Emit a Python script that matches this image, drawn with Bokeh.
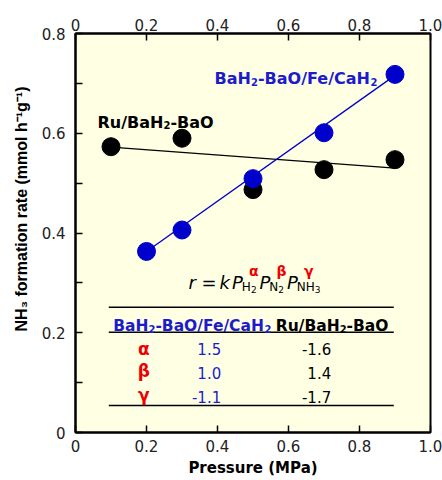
import numpy as np
from bokeh.plotting import figure
from bokeh.models import Label, FixedTicker, LinearAxis, Range1d
from bokeh.embed import file_html
from bokeh.resources import INLINE

# ---------------- data ----------------
pressure_ru = [0.1, 0.3, 0.5, 0.7, 0.9]
rate_ru = [0.573, 0.590, 0.487, 0.527, 0.547]
pressure_fe = [0.2, 0.3, 0.5, 0.7, 0.9]
rate_fe = [0.363, 0.406, 0.509, 0.601, 0.718]
fit_ru_x = [0.1, 0.9]
fit_ru_y = [0.572, 0.530]
fit_fe_x = [0.2, 0.9]
fit_fe_y = [0.363, 0.716]
x_ticks = [0, 0.2, 0.4, 0.6, 0.8, 1.0]
x_tick_labels = ["0", "0.2", "0.4", "0.6", "0.8", "1.0"]
y_ticks = [0, 0.2, 0.4, 0.6, 0.8]
y_tick_labels = ["0", "0.2", "0.4", "0.6", "0.8"]
y_minor = [0.1, 0.3, 0.5, 0.7]
orders = ["α", "β", "γ"]
orders_fe = ["1.5", "1.0", "-1.1"]
orders_ru = ["-1.6", "1.4", "-1.7"]

BLUE = "#0000CC"
TBLUE = "#1c1ccc"
RED = "#ee0000"
BG = "#FFFFE4"

# ---------------- figure ----------------
FL, FR, FT, FB = 75, 430, 33, 432
W, H = 442, 480
p = figure(width=W, height=H, x_range=Range1d(0, 1), y_range=Range1d(0, 0.8),
           output_backend="svg", toolbar_location=None,
           min_border_left=FL, min_border_right=W - FR,
           min_border_top=FT, min_border_bottom=H - FB,
           background_fill_color=BG, border_fill_color="white")
p.xgrid.visible = False
p.ygrid.visible = False
p.outline_line_color = "black"
p.outline_line_width = 2


def style_axis(ax, standoff):
    ax.axis_line_width = 2
    ax.axis_line_color = "black"
    ax.major_tick_in = 7
    ax.major_tick_out = 0
    ax.major_tick_line_width = 1.5
    ax.major_tick_line_color = "black"
    ax.minor_tick_in = 0
    ax.minor_tick_out = 0
    ax.major_label_text_font = "DejaVu Sans"
    ax.major_label_text_font_size = "15px"
    ax.major_label_text_color = "#222222"
    ax.major_label_standoff = standoff


xb = p.xaxis[0]
xb.ticker = FixedTicker(ticks=x_ticks)
xb.major_label_overrides = {t: s for t, s in zip(x_ticks, x_tick_labels)}
style_axis(xb, 7)
xb.axis_label = "Pressure (MPa)"
xb.axis_label_text_font = "DejaVu Sans"
xb.axis_label_text_font_style = "bold"
xb.axis_label_text_font_size = "15px"
xb.axis_label_text_color = "black"
xb.axis_label_standoff = 4

xt = LinearAxis(ticker=FixedTicker(ticks=x_ticks))
xt.major_label_overrides = {t: s for t, s in zip(x_ticks, x_tick_labels)}
style_axis(xt, 3)
p.add_layout(xt, "above")

ya = p.yaxis[0]
ya.ticker = FixedTicker(ticks=y_ticks, minor_ticks=y_minor)
ya.major_label_overrides = {t: s for t, s in zip(y_ticks, y_tick_labels)}
style_axis(ya, 10)
ya.minor_tick_in = 7
ya.minor_tick_out = 0
ya.minor_tick_line_width = 1.5
ya.minor_tick_line_color = "black"
# leading em spaces move the centred title up, as in the original figure
ya.axis_label = "\u2003\u2003\u2003NH\u2083 formation rate (mmol h\u207b\u00b9g\u207b\u00b9)"
ya.axis_label_text_font = "Liberation Sans"
ya.axis_label_text_font_style = "bold"
ya.axis_label_text_font_size = "16px"
ya.axis_label_text_color = "black"
ya.axis_label_standoff = 9

# ---------------- marks ----------------
p.line(fit_ru_x, fit_ru_y, line_color="black", line_width=1.2)
p.line(fit_fe_x, fit_fe_y, line_color=BLUE, line_width=1.3)
p.scatter(pressure_ru, rate_ru, size=18, fill_color="black", line_color="black")
p.scatter(pressure_fe, rate_fe, size=18, fill_color=BLUE, line_color=BLUE)

# ---------------- text helpers ----------------
DJB = {' ': .348, '-': .415, '/': .365, '(': .457, ')': .457, '.': .380,
       'B': .762, 'C': .734, 'F': .683, 'H': .837, 'M': .995, 'N': .837,
       'O': .850, 'P': .733, 'R': .770, 'a': .675, 'e': .678, 'u': .712}
for d in "0123456789":
    DJB[d] = .696
DJR = {' ': .318, '=': .838, '.': .318, '-': .361, 'H': .752, 'N': .748,
       'P': .603, 'k': .579, 'r': .411}
for d in "0123456789":
    DJR[d] = .636


def dx(px):
    return (px - FL) / (FR - FL)


def dy(py):
    return (FB - py) / (FB - FT) * 0.8


def lab(px, py, text, size, style="normal", color="black", align="left"):
    p.add_layout(Label(x=dx(px), y=dy(py), text=text, text_font="DejaVu Sans",
                       text_font_size=f"{size}px", text_font_style=style,
                       text_color=color, text_align=align,
                       text_baseline="alphabetic"))


def width(s, size, table):
    return sum(table.get(c, 0.6) for c in s) * size


def chain(px, py, chunks, align="left"):
    # chunks: (text, size, color, shift)
    total = sum(width(c[0], c[1], DJB) for c in chunks)
    pos = px - total if align == "right" else px
    for text, size, color, shift in chunks:
        lab(pos, py + shift, text, size, "bold", color)
        pos += width(text, size, DJB)


def chem(a, sub, b, size, color, tail=False):
    out = [(a, size, color, 0), (sub, 10, color, 3), (b, size, color, 0)]
    if tail:
        out.append(("2", 10, color, 3))
    return out


# series labels
chain(97, 121.5, chem("Ru/BaH", "2", "-BaO", 16, "black"))
chain(377, 78, chem("BaH", "2", "-BaO/Fe/CaH", 16, TBLUE, tail=True), align="right")

# rate equation  r = k P_H2^a P_N2^b P_NH3^g
fy = 281.7
FS = 18
lab(188, fy, "r", FS, style="italic")
lab(201, fy, "=", FS)
lab(219, fy, "k", FS, style="italic")
fx = 231.5
for sub_main, sub_small, greek in [("H", "2", orders[0]), ("N", "2", orders[1]),
                                    ("NH", "3", orders[2])]:
    lab(fx, fy, "P", FS, style="italic")
    sx = fx + width("P", FS, DJR) - 1
    lab(sx, fy + 5, sub_main, 12)
    sx += width(sub_main, 12, DJR)
    lab(sx, fy + 7, sub_small, 9)
    sx += width(sub_small, 9, DJR)
    lab(fx + 17, fy - 11, greek, 14, style="bold", color=RED)
    fx = max(sx, fx + 26) + 1.5

# table
tx0, tx1 = 108.3, 393.3
rule_y = [306.7, 331.7, 405]
p.segment(x0=[dx(tx0)] * 3, x1=[dx(tx1)] * 3,
          y0=[dy(v) for v in rule_y], y1=[dy(v) for v in rule_y],
          line_color="black", line_width=1.5)
chain(112.7, 325.5, chem("BaH", "2", "-BaO/Fe/CaH", 15.5, TBLUE, tail=True))
chain(388, 325.5, chem("Ru/BaH", "2", "-BaO", 15.5, "black"), align="right")

row_y = [348.7, 372.5, 396]
greek_y = [348.7, 370.5, 394]
for g, a, b, ry, gy in zip(orders, orders_fe, orders_ru, row_y, greek_y):
    lab(143.3, gy, g, 17, style="bold", color=RED, align="center")
    lab(220.7, ry, a, 15, color=TBLUE, align="right")
    lab(330.7, ry, b, 15, color="black", align="right")

open("out.html", "w").write(file_html(p, INLINE))
